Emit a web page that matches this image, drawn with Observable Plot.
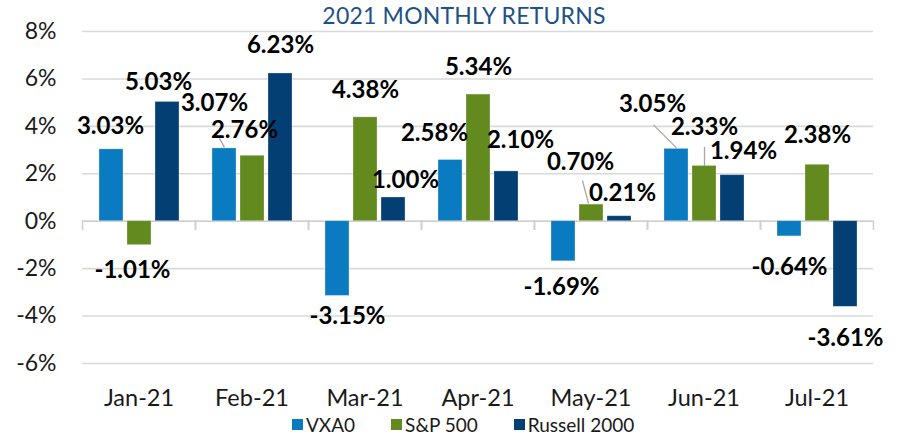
<!DOCTYPE html>
<html><head><meta charset="utf-8">
<script src="https://cdn.jsdelivr.net/npm/d3@7"></script>
<script src="https://cdn.jsdelivr.net/npm/@observablehq/plot@0.6"></script>
<style>
body{margin:0;background:#fff;font-family:Lato,"Open Sans",sans-serif}
#wrap{position:relative;width:903px;height:436px;overflow:hidden}
#title{position:absolute;left:464px;top:1px;transform:translateX(-50%);white-space:nowrap;font-size:23px;color:#1E5287;letter-spacing:0.2px}
#legend{position:absolute;left:292px;top:413px;display:flex;gap:36px;font-size:19px;color:#1a1a1a;white-space:nowrap}
#legend .item{display:flex;align-items:center;gap:3px}
#legend .sw{width:11px;height:11px;display:inline-block}
#chart{position:absolute;left:0;top:0}
</style></head><body>
<div id="wrap"><div id="chart"></div><div id="title">2021 MONTHLY RETURNS</div><div id="legend"></div></div>
<script>
const months = ["Jan-21","Feb-21","Mar-21","Apr-21","May-21","Jun-21","Jul-21"];
const seriesNames = ["VXA0","S&P 500","Russell 2000"];
const vxa0 = [3.03, 3.07, -3.15, 2.58, -1.69, 3.05, -0.64];
const sp500 = [-1.01, 2.76, 4.38, 5.34, 0.70, 2.33, 2.38];
const russell2000 = [5.03, 6.23, 1.00, 2.10, 0.21, 1.94, -3.61];
const yTicks = [-6, -4, -2, 0, 2, 4, 6, 8];
const colors = ["#0B7BC1", "#638A1E", "#033F73"];

// label nudges (px), as placed by hand in the original
const labelDx = [
  [-1, -10, 10, -16, -2, -24, 0],
  [-7, -8, 0, 0, -11, 0, 0],
  [-9, 0, 12, 14, 3, 11, 0]
];
const labelDy = [
  [-3, -25, -2, -7, 4, -25, 9],
  [3, -5, -7, -7, -22, -19, -9],
  [0, -8, 3, -11, -3, -4, 9]
];
// leader lines: series index, month index, start and end nudges (px) from bar end
const leaderDefs = [
  {s: 0, m: 1, a: [0, -1], b: [-5, -10]},
  {s: 1, m: 4, a: [-3, -1], b: [-9, -24]},
  {s: 0, m: 5, a: [0, -1], b: [-23, -24]},
  {s: 1, m: 5, a: [0, 0], b: [0, -19]}
];

const valuesBySeries = [vxa0, sp500, russell2000];
const rows = [];
months.forEach((m, i) => seriesNames.forEach((s, j) => {
  rows.push({month: m, series: s, value: valuesBySeries[j][i], si: j, mi: i});
}));
const leaders = leaderDefs.map(d => ({month: months[d.m], series: seriesNames[d.s], value: valuesBySeries[d.s][d.m], a: d.a, b: d.b}));

const fmt = v => v.toFixed(2) + "%";
const W = 903, H = 436, mT = 31, mB = 73, mL = 81, mR = 29;
const plotH = H - mT - mB;
const zeroOff = plotH * (8 / 14);

const textMarks = rows.map(d => Plot.text([d], {
  fx: "month", x: "series", y: "value",
  text: r => fmt(r.value),
  dx: labelDx[d.si][d.mi],
  dy: labelDy[d.si][d.mi] + (d.value >= 0 ? -20 : 22),
  fontSize: 24, fontWeight: "bold", fill: "#000", lineAnchor: "middle", textAnchor: "middle",
  fontFamily: "Lato"
}));

const chart = Plot.plot({
  width: W, height: H,
  marginTop: mT, marginBottom: mB, marginLeft: mL, marginRight: mR,
  style: {fontFamily: "Lato", background: "transparent", overflow: "visible"},
  fx: {domain: months, padding: 0, label: null, axis: "bottom", tickSize: 0, tickPadding: 26},
  x: {domain: seriesNames, axis: null, paddingInner: 0.16, paddingOuter: 0.56},
  y: {domain: [-6, 8], ticks: yTicks, tickFormat: d => d + "%", label: null, tickSize: 0, tickPadding: 26},
  color: {domain: seriesNames, range: colors},
  marks: [
    Plot.ruleY(yTicks, {stroke: "#D9D9D9", strokeWidth: 1.6}),
    Plot.ruleY([0], {stroke: "#D0D0D0", strokeWidth: 1.6}),
    Plot.frame({anchor: "left", stroke: "#D0D0D0", strokeWidth: 1.6, insetTop: zeroOff, insetBottom: plotH - zeroOff - 8}),
    Plot.frame({anchor: "right", stroke: "#D0D0D0", strokeWidth: 1.6, insetTop: zeroOff, insetBottom: plotH - zeroOff - 8}),
    Plot.barY(rows, {fx: "month", x: "series", y: "value", fill: "series", stroke: "#ffffff", strokeOpacity: 0.35, strokeWidth: 0.8}),
    Plot.link(leaders, {
      fx: "month", x1: "series", x2: "series", y1: "value", y2: "value",
      stroke: "#A6A6A6", strokeWidth: 1.3,
      render(index, scales, values, dimensions, context, next) {
        const X1 = Float64Array.from(values.x1), X2 = Float64Array.from(values.x2);
        const Y1 = Float64Array.from(values.y1), Y2 = Float64Array.from(values.y2);
        for (const i of index) {
          X1[i] += leaders[i].a[0]; Y1[i] += leaders[i].a[1];
          X2[i] += leaders[i].b[0]; Y2[i] += leaders[i].b[1];
        }
        return next(index, scales, {...values, x1: X1, x2: X2, y1: Y1, y2: Y2}, dimensions, context);
      }
    }),
    ...textMarks
  ]
});
// style axis text
d3.select(chart).selectAll("g[aria-label='y-axis tick label']").attr("font-size", 23).attr("fill", "#1a1a1a");
d3.select(chart).selectAll("g[aria-label='fx-axis tick label']").attr("font-size", 23.5).attr("fill", "#1a1a1a");
document.getElementById("chart").appendChild(chart);

const legend = document.getElementById("legend");
seriesNames.forEach((s, j) => {
  const it = document.createElement("div"); it.className = "item";
  const sw = document.createElement("span"); sw.className = "sw"; sw.style.background = colors[j];
  const tx = document.createElement("span"); tx.textContent = s;
  it.appendChild(sw); it.appendChild(tx); legend.appendChild(it);
});
</script>
</body></html>
